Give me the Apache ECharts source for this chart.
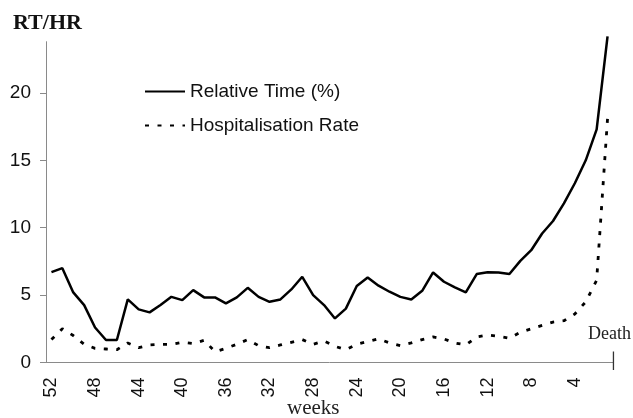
<!DOCTYPE html>
<html>
<head>
<meta charset="utf-8">
<script src="https://cdn.jsdelivr.net/npm/echarts@6/dist/echarts.min.js"></script>
<style>html,body{margin:0;padding:0;background:#fff}#c{width:633px;height:418px}</style>
</head>
<body>
<div id="c"></div>
<script>
// weeks before death (category axis, left to right)
const weeks = ['52','51','50','49','48','47','46','45','44','43','42','41','40','39','38','37','36','35','34','33','32','31','30','29','28','27','26','25','24','23','22','21','20','19','18','17','16','15','14','13','12','11','10','9','8','7','6','5','4','3','2','1'];
// Relative Time (%)
const relativeTime = [6.7,7.0,5.2,4.26,2.6,1.67,1.67,4.68,3.94,3.72,4.26,4.87,4.63,5.37,4.83,4.83,4.38,4.83,5.54,4.87,4.5,4.68,5.42,6.36,5.0,4.26,3.27,4.0,5.67,6.3,5.7,5.25,4.87,4.68,5.32,6.68,5.99,5.57,5.2,6.56,6.7,6.68,6.56,7.54,8.33,9.57,10.5,11.8,13.3,15.0,17.3,24.2];
// Hospitalisation Rate
const hospRate = [1.7,2.5,2.0,1.35,1.05,1.0,0.95,1.45,1.1,1.3,1.35,1.35,1.5,1.4,1.65,0.8,1.05,1.35,1.7,1.25,1.1,1.3,1.5,1.7,1.35,1.6,1.2,0.95,1.35,1.55,1.75,1.45,1.25,1.45,1.7,1.9,1.75,1.45,1.3,1.9,2.05,1.95,1.8,2.25,2.5,2.75,3.0,3.1,3.6,4.5,6.1,18.1];
const yTicks = [0,5,10,15,20];
const seriesNames = ['Relative Time (%)','Hospitalisation Rate'];

const chart = echarts.init(document.getElementById('c'), null, {renderer:'canvas'});
const sans = 'Liberation Sans, Arial, sans-serif';
const serif = 'Liberation Serif, Times New Roman, serif';
const axisGrey = '#8a8a8a';
chart.setOption({
  animation:false,
  backgroundColor:'#fff',
  grid:{left:46,right:20,top:41.7,bottom:55.5,containLabel:false},
  legend:{
    orient:'vertical', left:144, top:82, padding:0, itemWidth:40, itemHeight:14, itemGap:15,
    itemStyle:{opacity:0},
    textStyle:{fontFamily:sans,fontSize:19,color:'#111'},
    data:seriesNames
  },
  xAxis:{
    type:'category', data:weeks, boundaryGap:true,
    axisLine:{lineStyle:{color:axisGrey,width:1}},
    axisTick:{interval:0,length:6,lineStyle:{color:axisGrey}},
    axisLabel:{interval:3,rotate:90,margin:15,fontFamily:sans,fontSize:18,color:'#111'}
  },
  yAxis:{
    type:'value', min:0, max:23.8, interval:5,
    splitLine:{show:false},
    axisLine:{show:true,lineStyle:{color:axisGrey,width:1}},
    axisTick:{show:true,length:6,lineStyle:{color:axisGrey},customValues:yTicks},
    axisLabel:{margin:15,fontFamily:sans,fontSize:19,color:'#111',customValues:yTicks}
  },
  series:[
    {name:seriesNames[0],type:'line',data:relativeTime,symbol:'none',clip:false,
     lineStyle:{color:'#000',width:2.5},itemStyle:{color:'#000'}},
    {name:seriesNames[1],type:'line',data:hospRate,symbol:'none',clip:false,
     lineStyle:{color:'#000',width:2.8,type:[4,8.5]},itemStyle:{color:'#000'}}
  ],
  graphic:[
    {type:'text',left:13,top:12,style:{text:'RT/HR',font:'bold 22px '+serif,fill:'#111'}},
    {type:'text',left:287,top:398,style:{text:'weeks',font:'21px '+serif,fill:'#222'}},
    {type:'text',left:588,top:325,style:{text:'Death',font:'18px '+serif,fill:'#222'}},
    {type:'rect',z:100,shape:{x:612.8,y:351.5,width:1.3,height:18.5},style:{fill:'#333'}}
  ]
});
</script>
</body>
</html>
